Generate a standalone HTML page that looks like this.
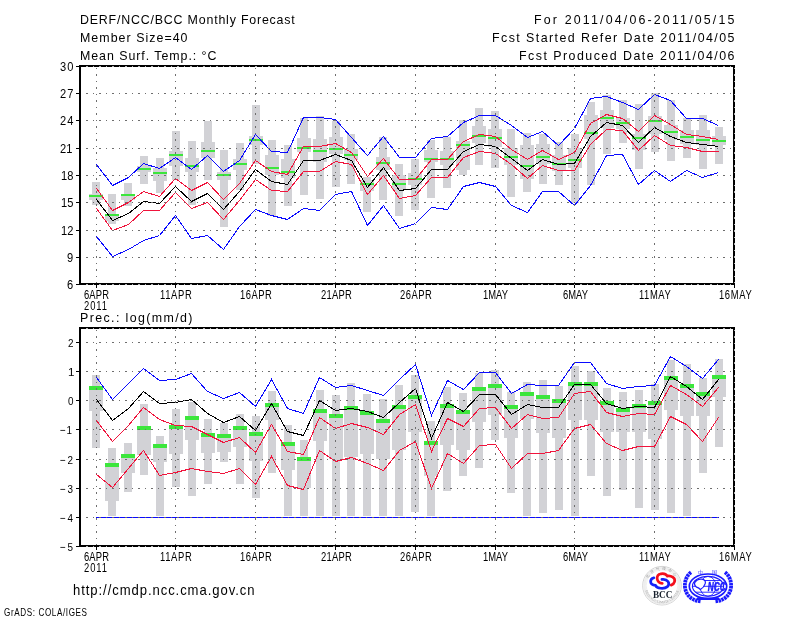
<!DOCTYPE html>
<html><head><meta charset="utf-8"><title>DERF/NCC/BCC Monthly Forecast</title><style>html,body{margin:0;padding:0;background:#fff;width:800px;height:618px;overflow:hidden}svg{display:block}</style></head><body>
<svg width="800" height="618" viewBox="0 0 800 618" font-family="'Liberation Sans', Arial, sans-serif">
<rect width="800" height="618" fill="#fff"/>
<g fill="#d2d2d6" shape-rendering="crispEdges">
<rect x="92" y="182" width="8" height="23"/>
<rect x="89" y="194" width="14" height="6"/>
<rect x="108" y="194" width="8" height="30"/>
<rect x="105" y="214" width="14" height="7"/>
<rect x="124" y="183" width="8" height="23"/>
<rect x="121" y="194" width="14" height="6"/>
<rect x="140" y="156" width="8" height="28"/>
<rect x="137" y="166" width="14" height="6"/>
<rect x="156" y="158" width="8" height="35"/>
<rect x="153" y="168" width="14" height="13"/>
<rect x="172" y="131" width="8" height="49"/>
<rect x="169" y="151" width="14" height="15"/>
<rect x="188" y="141" width="8" height="64"/>
<rect x="185" y="158" width="14" height="14"/>
<rect x="204" y="121" width="8" height="59"/>
<rect x="201" y="142" width="14" height="16"/>
<rect x="220" y="150" width="8" height="77"/>
<rect x="217" y="172" width="14" height="8"/>
<rect x="236" y="143" width="8" height="47"/>
<rect x="233" y="159" width="14" height="11"/>
<rect x="252" y="105" width="8" height="59"/>
<rect x="249" y="136" width="14" height="9"/>
<rect x="268" y="140" width="8" height="76"/>
<rect x="265" y="155" width="14" height="20"/>
<rect x="284" y="145" width="8" height="61"/>
<rect x="281" y="159" width="14" height="19"/>
<rect x="300" y="118" width="8" height="77"/>
<rect x="297" y="138" width="14" height="14"/>
<rect x="316" y="116" width="8" height="83"/>
<rect x="313" y="139" width="14" height="23"/>
<rect x="332" y="121" width="8" height="66"/>
<rect x="329" y="137" width="14" height="17"/>
<rect x="347" y="134" width="8" height="50"/>
<rect x="344" y="149" width="14" height="11"/>
<rect x="363" y="177" width="8" height="35"/>
<rect x="360" y="180" width="14" height="11"/>
<rect x="379" y="137" width="8" height="63"/>
<rect x="376" y="157" width="14" height="13"/>
<rect x="395" y="164" width="8" height="52"/>
<rect x="392" y="175" width="14" height="15"/>
<rect x="411" y="159" width="8" height="51"/>
<rect x="408" y="173" width="14" height="12"/>
<rect x="427" y="140" width="8" height="58"/>
<rect x="424" y="150" width="14" height="12"/>
<rect x="443" y="137" width="8" height="51"/>
<rect x="440" y="151" width="14" height="14"/>
<rect x="459" y="120" width="8" height="55"/>
<rect x="456" y="141" width="14" height="29"/>
<rect x="475" y="108" width="8" height="57"/>
<rect x="472" y="126" width="14" height="17"/>
<rect x="491" y="111" width="8" height="57"/>
<rect x="488" y="129" width="14" height="18"/>
<rect x="507" y="129" width="8" height="68"/>
<rect x="504" y="148" width="14" height="17"/>
<rect x="523" y="133" width="8" height="59"/>
<rect x="520" y="145" width="14" height="34"/>
<rect x="539" y="134" width="8" height="50"/>
<rect x="536" y="144" width="14" height="20"/>
<rect x="555" y="142" width="8" height="43"/>
<rect x="552" y="155" width="14" height="16"/>
<rect x="571" y="134" width="8" height="69"/>
<rect x="568" y="148" width="14" height="20"/>
<rect x="587" y="102" width="8" height="83"/>
<rect x="584" y="115" width="14" height="24"/>
<rect x="603" y="95" width="8" height="59"/>
<rect x="600" y="110" width="14" height="18"/>
<rect x="619" y="100" width="8" height="43"/>
<rect x="616" y="118" width="14" height="11"/>
<rect x="635" y="104" width="8" height="65"/>
<rect x="632" y="134" width="14" height="16"/>
<rect x="651" y="93" width="8" height="59"/>
<rect x="648" y="116" width="14" height="18"/>
<rect x="667" y="100" width="8" height="61"/>
<rect x="664" y="125" width="14" height="15"/>
<rect x="683" y="118" width="8" height="40"/>
<rect x="680" y="130" width="14" height="14"/>
<rect x="699" y="115" width="8" height="54"/>
<rect x="696" y="130" width="14" height="15"/>
<rect x="715" y="127" width="8" height="37"/>
<rect x="712" y="136" width="14" height="9"/>
</g>
<g fill="#3ce63c" shape-rendering="crispEdges">
<rect x="89" y="195" width="14" height="2"/>
<rect x="105" y="214" width="14" height="2"/>
<rect x="121" y="194" width="14" height="2"/>
<rect x="137" y="168" width="14" height="2"/>
<rect x="153" y="172" width="14" height="2"/>
<rect x="169" y="154" width="14" height="2"/>
<rect x="185" y="165" width="14" height="2"/>
<rect x="201" y="150" width="14" height="2"/>
<rect x="217" y="174" width="14" height="2"/>
<rect x="233" y="163" width="14" height="2"/>
<rect x="249" y="139" width="14" height="2"/>
<rect x="265" y="167" width="14" height="2"/>
<rect x="281" y="171" width="14" height="2"/>
<rect x="297" y="147" width="14" height="2"/>
<rect x="313" y="150" width="14" height="2"/>
<rect x="329" y="148" width="14" height="2"/>
<rect x="344" y="154" width="14" height="2"/>
<rect x="360" y="183" width="14" height="2"/>
<rect x="376" y="162" width="14" height="2"/>
<rect x="392" y="183" width="14" height="2"/>
<rect x="408" y="178" width="14" height="2"/>
<rect x="424" y="158" width="14" height="2"/>
<rect x="440" y="158" width="14" height="2"/>
<rect x="456" y="144" width="14" height="2"/>
<rect x="472" y="135" width="14" height="2"/>
<rect x="488" y="137" width="14" height="2"/>
<rect x="504" y="156" width="14" height="2"/>
<rect x="520" y="165" width="14" height="2"/>
<rect x="536" y="156" width="14" height="2"/>
<rect x="552" y="163" width="14" height="2"/>
<rect x="568" y="159" width="14" height="2"/>
<rect x="584" y="132" width="14" height="2"/>
<rect x="600" y="117" width="14" height="2"/>
<rect x="616" y="122" width="14" height="2"/>
<rect x="632" y="137" width="14" height="2"/>
<rect x="648" y="120" width="14" height="2"/>
<rect x="664" y="131" width="14" height="2"/>
<rect x="680" y="136" width="14" height="2"/>
<rect x="696" y="139" width="14" height="2"/>
<rect x="712" y="140" width="14" height="2"/>
</g>
<g>
<polyline points="96.5,236.5 112.5,256.5 128.5,249.5 143.5,240.5 159.5,235.5 175.5,215.5 191.5,238.5 207.5,235.5 223.5,249.5 239.5,226.5 255.5,209.5 271.5,215.5 287.5,219.5 303.5,208.5 319.5,210.5 335.5,194.5 351.5,191.5 367.5,225.5 383.5,205.5 399.5,228.5 415.5,223.5 431.5,207.5 447.5,209.5 463.5,186.5 479.5,182.5 495.5,186.5 511.5,205.5 527.5,212.5 542.5,191.5 558.5,191.5 574.5,205.5 590.5,185.5 606.5,155.5 622.5,154.5 638.5,184.5 654.5,170.5 670.5,181.5 686.5,170.5 702.5,177.5 718.5,172.5" fill="none" stroke="#0a0aff" stroke-width="1" shape-rendering="crispEdges"/>
<polyline points="96.5,164.5 112.5,185.5 128.5,177.5 143.5,163.5 159.5,168.5 175.5,157.5 191.5,169.5 207.5,155.5 223.5,171.5 239.5,160.5 255.5,134.5 271.5,151.5 287.5,152.5 303.5,117.5 319.5,117.5 335.5,119.5 351.5,137.5 367.5,155.5 383.5,136.5 399.5,157.5 415.5,157.5 431.5,138.5 447.5,136.5 463.5,122.5 479.5,115.5 495.5,115.5 511.5,125.5 527.5,137.5 542.5,131.5 558.5,145.5 574.5,128.5 590.5,98.5 606.5,96.5 622.5,102.5 638.5,109.5 654.5,94.5 670.5,100.5 686.5,118.5 702.5,118.5 718.5,125.5" fill="none" stroke="#0a0aff" stroke-width="1" shape-rendering="crispEdges"/>
<polyline points="96.5,208.5 112.5,230.5 128.5,224.5 143.5,210.5 159.5,210.5 175.5,192.5 191.5,208.5 207.5,202.5 223.5,219.5 239.5,200.5 255.5,179.5 271.5,190.5 287.5,191.5 303.5,171.5 319.5,171.5 335.5,161.5 351.5,164.5 367.5,194.5 383.5,175.5 399.5,198.5 415.5,195.5 431.5,177.5 447.5,177.5 463.5,157.5 479.5,151.5 495.5,153.5 511.5,164.5 527.5,178.5 542.5,165.5 558.5,170.5 574.5,170.5 590.5,144.5 606.5,129.5 622.5,130.5 638.5,150.5 654.5,135.5 670.5,145.5 686.5,147.5 702.5,151.5 718.5,151.5" fill="none" stroke="#f0143c" stroke-width="1" shape-rendering="crispEdges"/>
<polyline points="96.5,188.5 112.5,210.5 128.5,202.5 143.5,191.5 159.5,196.5 175.5,178.5 191.5,190.5 207.5,182.5 223.5,199.5 239.5,183.5 255.5,160.5 271.5,171.5 287.5,174.5 303.5,146.5 319.5,146.5 335.5,143.5 351.5,152.5 367.5,176.5 383.5,158.5 399.5,179.5 415.5,179.5 431.5,159.5 447.5,159.5 463.5,141.5 479.5,134.5 495.5,136.5 511.5,149.5 527.5,159.5 542.5,150.5 558.5,159.5 574.5,152.5 590.5,123.5 606.5,114.5 622.5,118.5 638.5,131.5 654.5,115.5 670.5,124.5 686.5,134.5 702.5,136.5 718.5,139.5" fill="none" stroke="#f0143c" stroke-width="1" shape-rendering="crispEdges"/>
<polyline points="96.5,199.5 112.5,220.5 128.5,213.5 143.5,201.5 159.5,203.5 175.5,186.5 191.5,201.5 207.5,193.5 223.5,209.5 239.5,191.5 255.5,169.5 271.5,181.5 287.5,184.5 303.5,160.5 319.5,160.5 335.5,154.5 351.5,160.5 367.5,187.5 383.5,167.5 399.5,190.5 415.5,188.5 431.5,169.5 447.5,169.5 463.5,151.5 479.5,144.5 495.5,146.5 511.5,158.5 527.5,170.5 542.5,159.5 558.5,164.5 574.5,163.5 590.5,136.5 606.5,122.5 622.5,125.5 638.5,142.5 654.5,127.5 670.5,136.5 686.5,142.5 702.5,144.5 718.5,146.5" fill="none" stroke="#000" stroke-width="1" shape-rendering="crispEdges"/>
</g>
<g shape-rendering="crispEdges">
<line x1="96.5" y1="67.6" x2="96.5" y2="283" stroke="#6e6e6e" stroke-width="1" stroke-dasharray="1.5 5"/>
<line x1="175.5" y1="67.6" x2="175.5" y2="283" stroke="#6e6e6e" stroke-width="1" stroke-dasharray="1.5 5"/>
<line x1="255.5" y1="67.6" x2="255.5" y2="283" stroke="#6e6e6e" stroke-width="1" stroke-dasharray="1.5 5"/>
<line x1="335.5" y1="67.6" x2="335.5" y2="283" stroke="#6e6e6e" stroke-width="1" stroke-dasharray="1.5 5"/>
<line x1="415.5" y1="67.6" x2="415.5" y2="283" stroke="#6e6e6e" stroke-width="1" stroke-dasharray="1.5 5"/>
<line x1="495.5" y1="67.6" x2="495.5" y2="283" stroke="#6e6e6e" stroke-width="1" stroke-dasharray="1.5 5"/>
<line x1="574.5" y1="67.6" x2="574.5" y2="283" stroke="#6e6e6e" stroke-width="1" stroke-dasharray="1.5 5"/>
<line x1="654.5" y1="67.6" x2="654.5" y2="283" stroke="#6e6e6e" stroke-width="1" stroke-dasharray="1.5 5"/>
<line x1="86.2" y1="93.5" x2="733" y2="93.5" stroke="#6e6e6e" stroke-width="1" stroke-dasharray="1.5 5"/>
<line x1="86.2" y1="120.5" x2="733" y2="120.5" stroke="#6e6e6e" stroke-width="1" stroke-dasharray="1.5 5"/>
<line x1="86.2" y1="148.5" x2="733" y2="148.5" stroke="#6e6e6e" stroke-width="1" stroke-dasharray="1.5 5"/>
<line x1="86.2" y1="175.5" x2="733" y2="175.5" stroke="#6e6e6e" stroke-width="1" stroke-dasharray="1.5 5"/>
<line x1="86.2" y1="202.5" x2="733" y2="202.5" stroke="#6e6e6e" stroke-width="1" stroke-dasharray="1.5 5"/>
<line x1="86.2" y1="230.5" x2="733" y2="230.5" stroke="#6e6e6e" stroke-width="1" stroke-dasharray="1.5 5"/>
<line x1="86.2" y1="257.5" x2="733" y2="257.5" stroke="#6e6e6e" stroke-width="1" stroke-dasharray="1.5 5"/>
</g>
<g fill="#d2d2d6" shape-rendering="crispEdges">
<rect x="92" y="375" width="8" height="73"/>
<rect x="89" y="386" width="14" height="25"/>
<rect x="108" y="448" width="8" height="68"/>
<rect x="105" y="463" width="14" height="38"/>
<rect x="124" y="443" width="8" height="49"/>
<rect x="121" y="454" width="14" height="19"/>
<rect x="140" y="404" width="8" height="71"/>
<rect x="137" y="426" width="14" height="29"/>
<rect x="156" y="436" width="8" height="80"/>
<rect x="153" y="444" width="14" height="18"/>
<rect x="172" y="409" width="8" height="78"/>
<rect x="169" y="425" width="14" height="29"/>
<rect x="188" y="402" width="8" height="94"/>
<rect x="185" y="416" width="14" height="24"/>
<rect x="204" y="419" width="8" height="65"/>
<rect x="201" y="433" width="14" height="20"/>
<rect x="220" y="423" width="8" height="39"/>
<rect x="217" y="434" width="14" height="18"/>
<rect x="236" y="414" width="8" height="70"/>
<rect x="233" y="426" width="14" height="21"/>
<rect x="252" y="416" width="8" height="82"/>
<rect x="249" y="432" width="14" height="29"/>
<rect x="268" y="391" width="8" height="82"/>
<rect x="265" y="403" width="14" height="17"/>
<rect x="284" y="425" width="8" height="91"/>
<rect x="281" y="442" width="14" height="28"/>
<rect x="300" y="440" width="8" height="76"/>
<rect x="297" y="457" width="14" height="31"/>
<rect x="316" y="390" width="8" height="126"/>
<rect x="313" y="409" width="14" height="32"/>
<rect x="332" y="395" width="8" height="121"/>
<rect x="329" y="414" width="14" height="45"/>
<rect x="347" y="383" width="8" height="133"/>
<rect x="344" y="406" width="14" height="51"/>
<rect x="363" y="394" width="8" height="122"/>
<rect x="360" y="411" width="14" height="43"/>
<rect x="379" y="399" width="8" height="117"/>
<rect x="376" y="419" width="14" height="40"/>
<rect x="395" y="385" width="8" height="131"/>
<rect x="392" y="405" width="14" height="45"/>
<rect x="411" y="375" width="8" height="137"/>
<rect x="408" y="395" width="14" height="37"/>
<rect x="427" y="421" width="8" height="95"/>
<rect x="424" y="441" width="14" height="35"/>
<rect x="443" y="387" width="8" height="104"/>
<rect x="440" y="404" width="14" height="41"/>
<rect x="459" y="393" width="8" height="83"/>
<rect x="456" y="410" width="14" height="40"/>
<rect x="475" y="373" width="8" height="95"/>
<rect x="472" y="387" width="14" height="35"/>
<rect x="491" y="370" width="8" height="70"/>
<rect x="488" y="384" width="14" height="31"/>
<rect x="507" y="392" width="8" height="101"/>
<rect x="504" y="405" width="14" height="33"/>
<rect x="523" y="382" width="8" height="134"/>
<rect x="520" y="392" width="14" height="27"/>
<rect x="539" y="380" width="8" height="133"/>
<rect x="536" y="395" width="14" height="38"/>
<rect x="555" y="386" width="8" height="124"/>
<rect x="552" y="399" width="14" height="39"/>
<rect x="571" y="366" width="8" height="150"/>
<rect x="568" y="382" width="14" height="38"/>
<rect x="587" y="371" width="8" height="105"/>
<rect x="584" y="382" width="14" height="38"/>
<rect x="603" y="388" width="8" height="108"/>
<rect x="600" y="401" width="14" height="31"/>
<rect x="619" y="392" width="8" height="98"/>
<rect x="616" y="408" width="14" height="24"/>
<rect x="635" y="390" width="8" height="118"/>
<rect x="632" y="404" width="14" height="28"/>
<rect x="651" y="384" width="8" height="126"/>
<rect x="648" y="401" width="14" height="38"/>
<rect x="667" y="360" width="8" height="153"/>
<rect x="664" y="376" width="14" height="34"/>
<rect x="683" y="364" width="8" height="152"/>
<rect x="680" y="384" width="14" height="32"/>
<rect x="699" y="378" width="8" height="95"/>
<rect x="696" y="392" width="14" height="24"/>
<rect x="715" y="359" width="8" height="88"/>
<rect x="712" y="375" width="14" height="22"/>
</g>
<g fill="#3ce63c" shape-rendering="crispEdges">
<rect x="89" y="386" width="14" height="4"/>
<rect x="105" y="463" width="14" height="4"/>
<rect x="121" y="454" width="14" height="4"/>
<rect x="137" y="426" width="14" height="4"/>
<rect x="153" y="444" width="14" height="4"/>
<rect x="169" y="425" width="14" height="4"/>
<rect x="185" y="416" width="14" height="4"/>
<rect x="201" y="433" width="14" height="4"/>
<rect x="217" y="434" width="14" height="4"/>
<rect x="233" y="426" width="14" height="4"/>
<rect x="249" y="432" width="14" height="4"/>
<rect x="265" y="403" width="14" height="4"/>
<rect x="281" y="442" width="14" height="4"/>
<rect x="297" y="457" width="14" height="4"/>
<rect x="313" y="409" width="14" height="4"/>
<rect x="329" y="414" width="14" height="4"/>
<rect x="344" y="406" width="14" height="4"/>
<rect x="360" y="411" width="14" height="4"/>
<rect x="376" y="419" width="14" height="4"/>
<rect x="392" y="405" width="14" height="4"/>
<rect x="408" y="395" width="14" height="4"/>
<rect x="424" y="441" width="14" height="4"/>
<rect x="440" y="404" width="14" height="4"/>
<rect x="456" y="410" width="14" height="4"/>
<rect x="472" y="387" width="14" height="4"/>
<rect x="488" y="384" width="14" height="4"/>
<rect x="504" y="405" width="14" height="4"/>
<rect x="520" y="392" width="14" height="4"/>
<rect x="536" y="395" width="14" height="4"/>
<rect x="552" y="399" width="14" height="4"/>
<rect x="568" y="382" width="14" height="4"/>
<rect x="584" y="382" width="14" height="4"/>
<rect x="600" y="401" width="14" height="4"/>
<rect x="616" y="408" width="14" height="4"/>
<rect x="632" y="404" width="14" height="4"/>
<rect x="648" y="401" width="14" height="4"/>
<rect x="664" y="376" width="14" height="4"/>
<rect x="680" y="384" width="14" height="4"/>
<rect x="696" y="392" width="14" height="4"/>
<rect x="712" y="375" width="14" height="4"/>
</g>
<g>
<line x1="96" y1="517.5" x2="719" y2="517.5" stroke="#0a0aff" stroke-width="1" shape-rendering="crispEdges"/>
<polyline points="96.5,474.5 112.5,487.5 128.5,468.5 143.5,450.5 159.5,475.5 175.5,472.5 191.5,468.5 207.5,471.5 223.5,473.5 239.5,468.5 255.5,484.5 271.5,456.5 287.5,485.5 303.5,489.5 319.5,450.5 335.5,461.5 351.5,457.5 367.5,463.5 383.5,470.5 399.5,450.5 415.5,441.5 431.5,488.5 447.5,453.5 463.5,463.5 479.5,445.5 495.5,444.5 511.5,468.5 527.5,453.5 542.5,453.5 558.5,450.5 574.5,428.5 590.5,424.5 606.5,443.5 622.5,450.5 638.5,446.5 654.5,446.5 670.5,416.5 686.5,424.5 702.5,441.5 718.5,417.5" fill="none" stroke="#f0143c" stroke-width="1" shape-rendering="crispEdges"/>
<polyline points="96.5,420.5 112.5,441.5 128.5,425.5 143.5,407.5 159.5,419.5 175.5,425.5 191.5,426.5 207.5,434.5 223.5,442.5 239.5,437.5 255.5,452.5 271.5,424.5 287.5,451.5 303.5,454.5 319.5,417.5 335.5,428.5 351.5,423.5 367.5,427.5 383.5,434.5 399.5,414.5 415.5,404.5 431.5,451.5 447.5,418.5 463.5,426.5 479.5,408.5 495.5,407.5 511.5,428.5 527.5,414.5 542.5,418.5 558.5,417.5 574.5,393.5 590.5,391.5 606.5,412.5 622.5,416.5 638.5,413.5 654.5,414.5 670.5,385.5 686.5,394.5 702.5,406.5 718.5,387.5" fill="none" stroke="#f0143c" stroke-width="1" shape-rendering="crispEdges"/>
<polyline points="96.5,377.5 112.5,399.5 128.5,383.5 143.5,368.5 159.5,380.5 175.5,379.5 191.5,373.5 207.5,391.5 223.5,398.5 239.5,392.5 255.5,406.5 271.5,379.5 287.5,408.5 303.5,413.5 319.5,377.5 335.5,387.5 351.5,385.5 367.5,390.5 383.5,395.5 399.5,379.5 415.5,364.5 431.5,415.5 447.5,380.5 463.5,389.5 479.5,372.5 495.5,372.5 511.5,393.5 527.5,384.5 542.5,385.5 558.5,385.5 574.5,362.5 590.5,362.5 606.5,383.5 622.5,388.5 638.5,386.5 654.5,385.5 670.5,356.5 686.5,366.5 702.5,378.5 718.5,359.5" fill="none" stroke="#0a0aff" stroke-width="1" shape-rendering="crispEdges"/>
<polyline points="96.5,399.5 112.5,420.5 128.5,408.5 143.5,391.5 159.5,403.5 175.5,402.5 191.5,399.5 207.5,413.5 223.5,422.5 239.5,416.5 255.5,430.5 271.5,403.5 287.5,431.5 303.5,435.5 319.5,400.5 335.5,410.5 351.5,408.5 367.5,411.5 383.5,417.5 399.5,402.5 415.5,388.5 431.5,438.5 447.5,402.5 463.5,411.5 479.5,394.5 495.5,394.5 511.5,414.5 527.5,404.5 542.5,407.5 558.5,407.5 574.5,384.5 590.5,384.5 606.5,403.5 622.5,408.5 638.5,406.5 654.5,407.5 670.5,376.5 686.5,386.5 702.5,399.5 718.5,379.5" fill="none" stroke="#000" stroke-width="1" shape-rendering="crispEdges"/>
</g>
<g shape-rendering="crispEdges">
<line x1="96.5" y1="329.6" x2="96.5" y2="545" stroke="#6e6e6e" stroke-width="1" stroke-dasharray="1.5 5"/>
<line x1="175.5" y1="329.6" x2="175.5" y2="545" stroke="#6e6e6e" stroke-width="1" stroke-dasharray="1.5 5"/>
<line x1="255.5" y1="329.6" x2="255.5" y2="545" stroke="#6e6e6e" stroke-width="1" stroke-dasharray="1.5 5"/>
<line x1="335.5" y1="329.6" x2="335.5" y2="545" stroke="#6e6e6e" stroke-width="1" stroke-dasharray="1.5 5"/>
<line x1="415.5" y1="329.6" x2="415.5" y2="545" stroke="#6e6e6e" stroke-width="1" stroke-dasharray="1.5 5"/>
<line x1="495.5" y1="329.6" x2="495.5" y2="545" stroke="#6e6e6e" stroke-width="1" stroke-dasharray="1.5 5"/>
<line x1="574.5" y1="329.6" x2="574.5" y2="545" stroke="#6e6e6e" stroke-width="1" stroke-dasharray="1.5 5"/>
<line x1="654.5" y1="329.6" x2="654.5" y2="545" stroke="#6e6e6e" stroke-width="1" stroke-dasharray="1.5 5"/>
<line x1="86.2" y1="342.5" x2="733" y2="342.5" stroke="#6e6e6e" stroke-width="1" stroke-dasharray="1.5 5"/>
<line x1="86.2" y1="371.5" x2="733" y2="371.5" stroke="#6e6e6e" stroke-width="1" stroke-dasharray="1.5 5"/>
<line x1="86.2" y1="400.5" x2="733" y2="400.5" stroke="#6e6e6e" stroke-width="1" stroke-dasharray="1.5 5"/>
<line x1="86.2" y1="429.5" x2="733" y2="429.5" stroke="#6e6e6e" stroke-width="1" stroke-dasharray="1.5 5"/>
<line x1="86.2" y1="459.5" x2="733" y2="459.5" stroke="#6e6e6e" stroke-width="1" stroke-dasharray="1.5 5"/>
<line x1="86.2" y1="488.5" x2="733" y2="488.5" stroke="#6e6e6e" stroke-width="1" stroke-dasharray="1.5 5"/>
<line x1="86.2" y1="517.5" x2="733" y2="517.5" stroke="#6e6e6e" stroke-width="1" stroke-dasharray="1.5 5"/>
</g>
<g fill="none" stroke="#000" shape-rendering="crispEdges">
<rect x="80" y="66" width="654" height="218" stroke-width="2"/>
<rect x="80" y="328" width="654" height="218" stroke-width="2"/>
<line x1="76" y1="66.5" x2="79" y2="66.5" stroke-width="1"/>
<line x1="76" y1="93.5" x2="79" y2="93.5" stroke-width="1"/>
<line x1="76" y1="120.5" x2="79" y2="120.5" stroke-width="1"/>
<line x1="76" y1="148.5" x2="79" y2="148.5" stroke-width="1"/>
<line x1="76" y1="175.5" x2="79" y2="175.5" stroke-width="1"/>
<line x1="76" y1="202.5" x2="79" y2="202.5" stroke-width="1"/>
<line x1="76" y1="230.5" x2="79" y2="230.5" stroke-width="1"/>
<line x1="76" y1="257.5" x2="79" y2="257.5" stroke-width="1"/>
<line x1="76" y1="284.5" x2="79" y2="284.5" stroke-width="1"/>
<line x1="76" y1="342.5" x2="79" y2="342.5" stroke-width="1"/>
<line x1="76" y1="371.5" x2="79" y2="371.5" stroke-width="1"/>
<line x1="76" y1="400.5" x2="79" y2="400.5" stroke-width="1"/>
<line x1="76" y1="429.5" x2="79" y2="429.5" stroke-width="1"/>
<line x1="76" y1="459.5" x2="79" y2="459.5" stroke-width="1"/>
<line x1="76" y1="488.5" x2="79" y2="488.5" stroke-width="1"/>
<line x1="76" y1="517.5" x2="79" y2="517.5" stroke-width="1"/>
<line x1="76" y1="546.5" x2="79" y2="546.5" stroke-width="1"/>
<line x1="96.5" y1="285" x2="96.5" y2="288" stroke-width="1"/>
<line x1="96.5" y1="547" x2="96.5" y2="550" stroke-width="1"/>
<line x1="175.5" y1="285" x2="175.5" y2="288" stroke-width="1"/>
<line x1="175.5" y1="547" x2="175.5" y2="550" stroke-width="1"/>
<line x1="255.5" y1="285" x2="255.5" y2="288" stroke-width="1"/>
<line x1="255.5" y1="547" x2="255.5" y2="550" stroke-width="1"/>
<line x1="335.5" y1="285" x2="335.5" y2="288" stroke-width="1"/>
<line x1="335.5" y1="547" x2="335.5" y2="550" stroke-width="1"/>
<line x1="415.5" y1="285" x2="415.5" y2="288" stroke-width="1"/>
<line x1="415.5" y1="547" x2="415.5" y2="550" stroke-width="1"/>
<line x1="495.5" y1="285" x2="495.5" y2="288" stroke-width="1"/>
<line x1="495.5" y1="547" x2="495.5" y2="550" stroke-width="1"/>
<line x1="574.5" y1="285" x2="574.5" y2="288" stroke-width="1"/>
<line x1="574.5" y1="547" x2="574.5" y2="550" stroke-width="1"/>
<line x1="654.5" y1="285" x2="654.5" y2="288" stroke-width="1"/>
<line x1="654.5" y1="547" x2="654.5" y2="550" stroke-width="1"/>
<line x1="734.5" y1="285" x2="734.5" y2="288" stroke-width="1"/>
<line x1="734.5" y1="547" x2="734.5" y2="550" stroke-width="1"/>
</g>
<g stroke="#b4b4b4" stroke-width="1" stroke-dasharray="1.5 5" shape-rendering="crispEdges">
<line x1="86.2" y1="66.5" x2="733" y2="66.5"/>
<line x1="86.2" y1="284.5" x2="733" y2="284.5"/>
<line x1="86.2" y1="328.5" x2="733" y2="328.5"/>
<line x1="86.2" y1="546.5" x2="733" y2="546.5"/>
<line x1="734.5" y1="67.6" x2="734.5" y2="283"/>
<line x1="734.5" y1="329.6" x2="734.5" y2="545"/>
</g>
<g fill="#000" font-family="'Liberation Sans', Arial, sans-serif">
<text transform="translate(80.00,24) scale(0.950,1)" font-size="13.08" textLength="226.03" lengthAdjust="spacing">DERF/NCC/BCC Monthly Forecast</text>
<text transform="translate(80.00,42) scale(0.950,1)" font-size="13.08" textLength="113.17" lengthAdjust="spacing">Member Size=40</text>
<text transform="translate(80.00,60) scale(0.950,1)" font-size="13.08" textLength="143.66" lengthAdjust="spacing">Mean Surf. Temp.: &#176;C</text>
<text transform="translate(534.00,24) scale(0.950,1)" font-size="13.08" textLength="211.01" lengthAdjust="spacing">For 2011/04/06-2011/05/15</text>
<text transform="translate(492.00,42) scale(0.950,1)" font-size="13.08" textLength="255.20" lengthAdjust="spacing">Fcst Started Refer Date 2011/04/05</text>
<text transform="translate(519.00,60) scale(0.950,1)" font-size="13.08" textLength="226.79" lengthAdjust="spacing">Fcst Produced Date 2011/04/06</text>
<text transform="translate(80.00,322) scale(0.950,1)" font-size="13.08" textLength="118.41" lengthAdjust="spacing">Prec.: log(mm/d)</text>
<text transform="translate(73.00,595) scale(0.950,1)" font-size="13.80" textLength="191.01" lengthAdjust="spacing">http://cmdp.ncc.cma.gov.cn</text>
<text transform="translate(4.00,616) scale(0.700,1)" font-size="11.63" textLength="118.57" lengthAdjust="spacing">GrADS: COLA/IGES</text>
<text transform="translate(84.00,299) scale(0.720,1)" font-size="13.08" textLength="34.63" lengthAdjust="spacing">6APR</text>
<text transform="translate(84.00,561) scale(0.720,1)" font-size="13.08" textLength="34.63" lengthAdjust="spacing">6APR</text>
<text transform="translate(160.00,299) scale(0.720,1)" font-size="13.08" textLength="44.10" lengthAdjust="spacing">11APR</text>
<text transform="translate(160.00,561) scale(0.720,1)" font-size="13.08" textLength="44.10" lengthAdjust="spacing">11APR</text>
<text transform="translate(240.00,299) scale(0.720,1)" font-size="13.08" textLength="44.10" lengthAdjust="spacing">16APR</text>
<text transform="translate(240.00,561) scale(0.720,1)" font-size="13.08" textLength="44.10" lengthAdjust="spacing">16APR</text>
<text transform="translate(321.00,299) scale(0.720,1)" font-size="13.08" textLength="42.88" lengthAdjust="spacing">21APR</text>
<text transform="translate(321.00,561) scale(0.720,1)" font-size="13.08" textLength="42.88" lengthAdjust="spacing">21APR</text>
<text transform="translate(400.00,299) scale(0.720,1)" font-size="13.08" textLength="44.27" lengthAdjust="spacing">26APR</text>
<text transform="translate(400.00,561) scale(0.720,1)" font-size="13.08" textLength="44.27" lengthAdjust="spacing">26APR</text>
<text transform="translate(483.00,299) scale(0.720,1)" font-size="13.08" textLength="34.63" lengthAdjust="spacing">1MAY</text>
<text transform="translate(483.00,561) scale(0.720,1)" font-size="13.08" textLength="34.63" lengthAdjust="spacing">1MAY</text>
<text transform="translate(563.00,299) scale(0.720,1)" font-size="13.08" textLength="34.72" lengthAdjust="spacing">6MAY</text>
<text transform="translate(563.00,561) scale(0.720,1)" font-size="13.08" textLength="34.72" lengthAdjust="spacing">6MAY</text>
<text transform="translate(639.00,299) scale(0.720,1)" font-size="13.08" textLength="44.10" lengthAdjust="spacing">11MAY</text>
<text transform="translate(639.00,561) scale(0.720,1)" font-size="13.08" textLength="44.10" lengthAdjust="spacing">11MAY</text>
<text transform="translate(719.00,299) scale(0.720,1)" font-size="13.08" textLength="45.49" lengthAdjust="spacing">16MAY</text>
<text transform="translate(719.00,561) scale(0.720,1)" font-size="13.08" textLength="45.49" lengthAdjust="spacing">16MAY</text>
<text transform="translate(84.00,310) scale(0.720,1)" font-size="13.08" textLength="31.94" lengthAdjust="spacing">2011</text>
<text transform="translate(84.00,572) scale(0.720,1)" font-size="13.08" textLength="31.94" lengthAdjust="spacing">2011</text>
<text transform="translate(60.00,71) scale(0.850,1)" font-size="13.08" textLength="15.76" lengthAdjust="spacing">30</text>
<text transform="translate(60.00,98) scale(0.850,1)" font-size="13.08" textLength="15.76" lengthAdjust="spacing">27</text>
<text transform="translate(60.00,125) scale(0.850,1)" font-size="13.08" textLength="15.76" lengthAdjust="spacing">24</text>
<text transform="translate(60.00,153) scale(0.850,1)" font-size="13.08" textLength="14.59" lengthAdjust="spacing">21</text>
<text transform="translate(61.00,180) scale(0.850,1)" font-size="13.08" textLength="14.59" lengthAdjust="spacing">18</text>
<text transform="translate(61.00,207) scale(0.850,1)" font-size="13.08" textLength="14.59" lengthAdjust="spacing">15</text>
<text transform="translate(61.00,235) scale(0.850,1)" font-size="13.08" textLength="14.59" lengthAdjust="spacing">12</text>
<text transform="translate(67.00,262) scale(0.850,1)" font-size="13.08">9</text>
<text transform="translate(67.00,289) scale(0.850,1)" font-size="13.08">6</text>
<text transform="translate(68.00,347) scale(0.850,1)" font-size="11.63">2</text>
<text transform="translate(68.00,376) scale(1.000,1)" font-size="11.63">1</text>
<text transform="translate(68.00,405) scale(0.850,1)" font-size="11.63">0</text>
<text transform="translate(60.00,434) scale(0.850,1)" font-size="11.63" textLength="14.12" lengthAdjust="spacing">&#8722;1</text>
<text transform="translate(60.00,464) scale(0.850,1)" font-size="11.63" textLength="15.29" lengthAdjust="spacing">&#8722;2</text>
<text transform="translate(60.00,493) scale(0.850,1)" font-size="11.63" textLength="15.29" lengthAdjust="spacing">&#8722;3</text>
<text transform="translate(60.00,522) scale(0.850,1)" font-size="11.63" textLength="15.29" lengthAdjust="spacing">&#8722;4</text>
<text transform="translate(60.00,551) scale(0.850,1)" font-size="11.63" textLength="15.29" lengthAdjust="spacing">&#8722;5</text>
</g>
<g>
<circle cx="662" cy="585.7" r="19.3" fill="#fff" stroke="#d4d4d4" stroke-width="1"/>
<circle cx="662" cy="585.7" r="17.6" fill="none" stroke="#eeeeee" stroke-width="2.4"/>
<circle cx="662" cy="585.7" r="15.9" fill="none" stroke="#e4e4e4" stroke-width="0.6"/>
<path id="bccring" d="M645.2,585.7 A16.8,16.8 0 0 0 678.8,585.7" fill="none"/>
<path id="bccring2" d="M646.2,585.7 A15.8,15.8 0 0 1 677.8,585.7" fill="none"/>
<text font-family="'Liberation Serif', serif" font-size="3.4" fill="#a8a8a8"><textPath href="#bccring" startOffset="50%" text-anchor="middle" dominant-baseline="middle">BEIJING CLIMATE CENTER</textPath></text>
<text font-family="'Liberation Sans', 'Noto Sans CJK SC', sans-serif" font-size="3.6" fill="#9a9a9a"><textPath href="#bccring2" startOffset="50%" text-anchor="middle" letter-spacing="2.2">北京气候中心</textPath></text>
<path d="M662.3,583.3 C656.2,583 655.2,575 661,573.8 C663.8,573.3 666.2,574.4 667.3,576.1 C671,575.4 675.6,578 674.6,581.6 C674.1,583.4 672.8,584.6 671.2,585.1" fill="none" stroke="#f4101c" stroke-width="2.7" stroke-linecap="round"/>
<path d="M653.9,577.8 C649.4,579.1 649.3,585 655.4,585.3 C657,588.6 664,589.5 667.5,586.6 C670.6,583.6 667.6,578.6 661.9,579.4" fill="none" stroke="#1422f8" stroke-width="2.7" stroke-linecap="round"/>
<text x="662.6" y="598" font-family="'Liberation Serif', serif" font-weight="bold" font-size="10.4" text-anchor="middle" fill="#18202c" textLength="19.4" lengthAdjust="spacingAndGlyphs">BCC</text>
</g>
<g fill="none" stroke="#1a1aff">
<path d="M691,572.3 C684.5,577 682.8,588 687.8,594.8 C690.5,598.4 694.6,600.6 700.5,601.4" stroke-width="3.8" stroke-dasharray="2.5 0.6"/>
<path d="M725,572.3 C731.5,577 733.2,588 728.2,594.8 C725.5,598.4 721.4,600.6 715.5,601.4" stroke-width="3.8" stroke-dasharray="2.5 0.6"/>
<ellipse cx="708" cy="586.3" rx="18.7" ry="12.3" stroke-width="1.7"/>
<ellipse cx="708" cy="586.3" rx="15.6" ry="9.9" stroke-width="1.1"/>
<ellipse cx="708" cy="586.3" rx="8" ry="9.9" stroke-width="0.9"/>
<path d="M692.5,586.3 L723.5,586.3 M695.5,580.5 L720.5,580.5 M695.5,592.2 L720.5,592.2" stroke-width="0.9"/>
<path d="M697,598.8 L719,598.8" stroke-width="2.4"/>
<path d="M694.5,582.8 C696.5,580 699,578.6 702,579.2 C704.5,579.5 706,581.5 705.2,583.6 C704.4,586.2 702.3,588.4 700.4,589.6 C699.4,588.3 698,587.6 696.6,587.2 C695.2,586.4 694.4,584.6 694.5,582.8 Z" stroke-width="1.2" fill="#fff"/>
<text x="716.7" y="590.6" font-family="'Liberation Sans', sans-serif" font-weight="bold" font-style="italic" font-size="13" text-anchor="middle" fill="#1a1aff" stroke="#1a1aff" stroke-width="0.5" textLength="18" lengthAdjust="spacingAndGlyphs">NCC</text>
<text x="700.5" y="573.8" font-family="'Liberation Sans', 'Noto Sans CJK SC', sans-serif" font-size="4.8" text-anchor="middle" fill="#1a1aff" stroke="none">中</text>
<text x="714.5" y="573.8" font-family="'Liberation Sans', 'Noto Sans CJK SC', sans-serif" font-size="4.8" text-anchor="middle" fill="#1a1aff" stroke="none">国</text>
</g>
</svg>
</body></html>
